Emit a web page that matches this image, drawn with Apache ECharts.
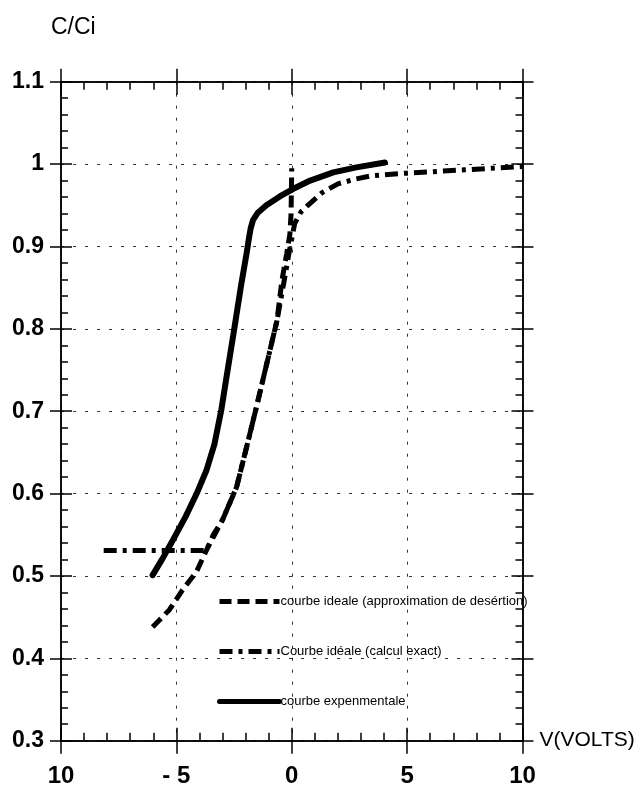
<!DOCTYPE html>
<html>
<head>
<meta charset="utf-8">
<script src="https://cdn.jsdelivr.net/npm/echarts@6/dist/echarts.min.js"></script>
<style>
  html, body { margin: 0; padding: 0; background: #fff; }
  #chart { width: 640px; height: 795px; }
</style>
</head>
<body>
<div id="chart"></div>
<script>
// C/Ci versus V (volts)
const xTickLabels = ['10', '- 5', '0', '5', '10'];
const yTickLabels = ['0.3', '0.4', '0.5', '0.6', '0.7', '0.8', '0.9', '1', '1.1'];

const legendNames = [
  'courbe ideale (approximation de desértion)',
  'Courbe idéale (calcul exact)',
  'courbe expenmentale'
];

// depletion approximation
const approxV = [-6.03, -5.3, -4.73, -4.13, -3.65, -3.0, -2.39, -1.96, -1.53, -1.08, -0.64, -0.43, -0.22, -0.08, -0.03, 0];
const approxC = [0.438, 0.459, 0.483, 0.505, 0.534, 0.568, 0.608, 0.656, 0.705, 0.758, 0.81, 0.858, 0.891, 0.915, 0.94, 0.995];

// exact calculation
const exactV = [-8.15, -3.7, -3.4, -3.0, -2.39, -1.96, -1.53, -1.08, -0.64, -0.35, -0.1, 0.13, 0.4, 0.7, 1.3, 2.0, 2.8, 3.5, 5, 7.5, 10];
const exactC = [0.531, 0.531, 0.55, 0.568, 0.608, 0.656, 0.705, 0.758, 0.81, 0.855, 0.895, 0.928, 0.942, 0.95, 0.965, 0.976, 0.982, 0.986, 0.989, 0.993, 0.997];

// experimental curve
const expV = [-6.03, -5.6, -5.16, -4.6, -4.12, -3.7, -3.35, -3.05, -2.83, -2.48, -2.2, -1.96, -1.86, -1.78, -1.68, -1.47, -1.1, -0.5, 0.07, 0.8, 1.8, 2.8, 4.04];
const expC = [0.501, 0.521, 0.543, 0.572, 0.600, 0.628, 0.660, 0.702, 0.741, 0.802, 0.852, 0.891, 0.909, 0.922, 0.932, 0.941, 0.950, 0.961, 0.970, 0.980, 0.990, 0.996, 1.002];

const pairs = (xs, ys) => xs.map((x, i) => [x, ys[i]]);

const FONT = '"Liberation Sans", Arial, sans-serif';
const X_MIN = -10, X_MAX = 10, X_STEP = 5;
const Y_MIN = 0.3, Y_MAX = 1.1, Y_STEP = 0.1;

function xAxis(position, inside, withLabels, withGrid) {
  return {
    type: 'value', position: position, min: X_MIN, max: X_MAX, interval: X_STEP,
    axisLine: { show: true, onZero: false, lineStyle: { color: '#000', width: 1.5 } },
    axisTick: { show: true, inside: inside, length: 13, lineStyle: { color: '#000', width: 1.5 } },
    minorTick: { show: inside, splitNumber: 5, length: 8, lineStyle: { color: '#000', width: 1.5 } },
    axisLabel: {
      show: withLabels, margin: 24, fontFamily: FONT, fontSize: 24, fontWeight: 'bold', color: '#000',
      formatter: v => xTickLabels[Math.round((v - X_MIN) / X_STEP)]
    },
    splitLine: { show: withGrid, lineStyle: { color: '#333', width: 1, type: [3, 9] } },
    name: withLabels ? 'V(VOLTS)' : '', nameLocation: 'end', nameGap: 17,
    nameTextStyle: { fontFamily: FONT, fontSize: 21, color: '#000', padding: [0, 0, 6, 0] }
  };
}

function yAxis(position, inside, withLabels, withGrid) {
  return {
    type: 'value', position: position, min: Y_MIN, max: Y_MAX, interval: Y_STEP,
    axisLine: { show: true, onZero: false, lineStyle: { color: '#000', width: 1.5 } },
    axisTick: { show: true, inside: inside, length: 11, lineStyle: { color: '#000', width: 1.5 } },
    minorTick: { show: inside, splitNumber: 5, length: 7, lineStyle: { color: '#000', width: 1.5 } },
    axisLabel: {
      show: withLabels, margin: 17, fontFamily: FONT, fontSize: 23, fontWeight: 'bold', color: '#000',
      formatter: v => yTickLabels[Math.round((v - Y_MIN) / Y_STEP)]
    },
    splitLine: { show: withGrid, lineStyle: { color: '#333', width: 1, type: [3, 9] } }
  };
}

const chart = echarts.init(document.getElementById('chart'), null, { renderer: 'canvas' });

chart.setOption({
  backgroundColor: '#fff',
  animation: false,
  title: {
    text: 'C/Ci', left: 46, top: 11,
    textStyle: { fontFamily: FONT, fontSize: 23, fontWeight: 'normal', color: '#000' }
  },
  grid: { left: 61, right: 117.5, top: 81.7, bottom: 54.3, outerBoundsMode: 'none' },
  xAxis: [
    xAxis('bottom', true, true, true),
    xAxis('bottom', false, false, false),
    xAxis('top', true, false, false),
    xAxis('top', false, false, false)
  ],
  yAxis: [
    yAxis('left', true, true, true),
    yAxis('left', false, false, false),
    yAxis('right', true, false, false),
    yAxis('right', false, false, false)
  ],
  legend: {
    orient: 'vertical', left: 212, top: 590,
    itemWidth: 60, itemHeight: 14, itemGap: 37,
    itemStyle: { opacity: 0 },
    lineStyle: { width: 5 },
    textStyle: { fontFamily: FONT, fontSize: 13, color: '#000', padding: [0, 0, 0, -4] },
    data: legendNames
  },
  series: [
    {
      name: legendNames[0], type: 'line', symbol: 'none',
      data: pairs(approxV, approxC),
      itemStyle: { color: '#000' },
      lineStyle: { color: '#000', width: 5, type: [12, 6] }
    },
    {
      name: legendNames[1], type: 'line', symbol: 'none',
      data: pairs(exactV, exactC),
      itemStyle: { color: '#000' },
      lineStyle: { color: '#000', width: 5, type: [13, 6, 4, 6] }
    },
    {
      name: legendNames[2], type: 'line', symbol: 'none',
      data: pairs(expV, expC),
      itemStyle: { color: '#000' },
      lineStyle: { color: '#000', width: 6, cap: 'round', join: 'round' }
    }
  ]
});
</script>
</body>
</html>
